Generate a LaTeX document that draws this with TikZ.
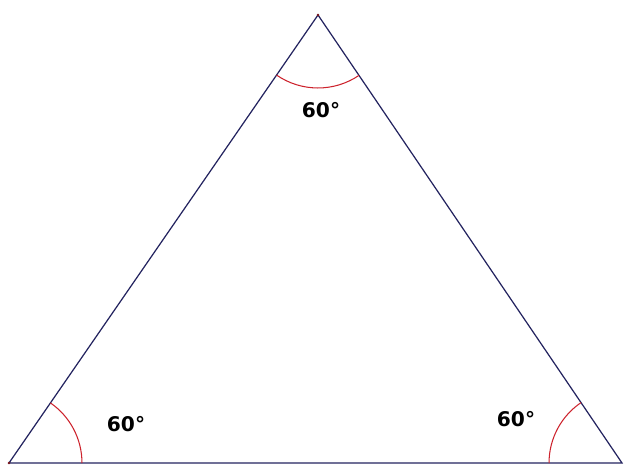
\documentclass[tikz,border=0pt]{standalone}
\usepackage{fontspec}
\setmainfont{DejaVu Sans}
\usetikzlibrary{angles}
\definecolor{edgeblue}{RGB}{35,35,95}
\definecolor{arcred}{RGB}{205,35,45}
\tikzset{
  side/.style={edgeblue,line width=0.7pt},
  anglearc/.style={draw=arcred,line width=0.6pt,angle radius=1.46cm},
  deglabel/.style={font=\fontsize{11.5}{13}\selectfont\bfseries,inner sep=0pt},
}
\begin{document}
\begin{tikzpicture}[x=0.02cm,y=0.02cm]
\useasboundingbox (0,0) rectangle (624,466);
\coordinate (top) at (318,451);
\coordinate (left) at (9,3);
\coordinate (right) at (622,3);
\draw[side] (top) -- (left) -- (right) -- cycle;
\fill[arcred!60!black] (top) circle (1.4);
\fill[arcred!60!black] (left) circle (1.4);
% angle marks
\pic[anglearc] {angle=left--top--right};
\pic[anglearc] {angle=right--left--top};
\pic[anglearc] {angle=top--right--left};
\node[deglabel] (atop) at (321,356) {60°};
\node[deglabel] (aleft) at (126,42) {60°};
\node[deglabel] (aright) at (516,47) {60°};
\end{tikzpicture}
\end{document}
